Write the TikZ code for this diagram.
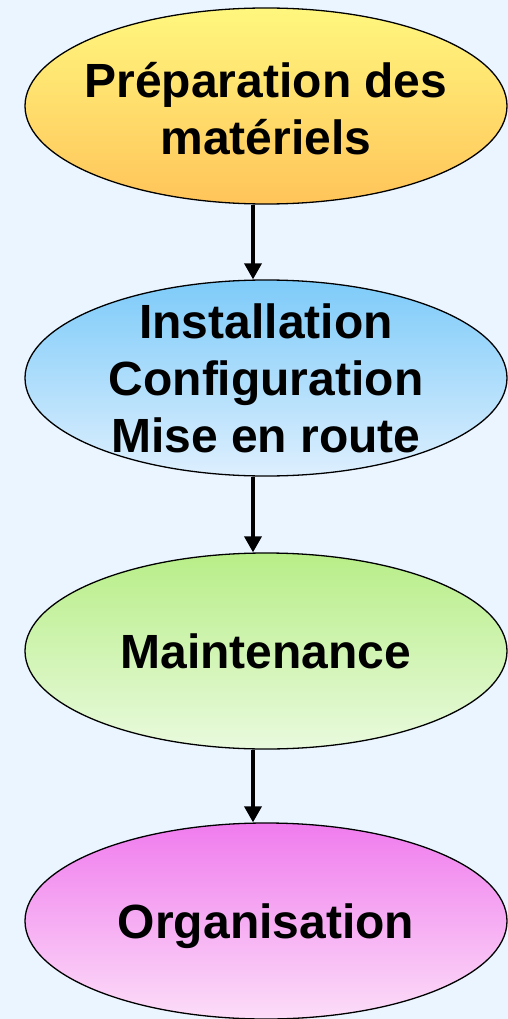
\documentclass[tikz,border=0pt]{standalone}
\usepackage{fontspec}
\setmainfont{Liberation Sans}
\usepackage{tikz}
\usetikzlibrary{shapes.geometric}
\usetikzlibrary{arrows.meta}
\definecolor{pagebg}{HTML}{EBF5FF}
\definecolor{prepTop}{HTML}{FFF77E}
\definecolor{prepBot}{HTML}{FFC45A}
\definecolor{instTop}{HTML}{7DCBF9}
\definecolor{instBot}{HTML}{DDEFFE}
\definecolor{mainTop}{HTML}{B8EE88}
\definecolor{mainBot}{HTML}{E9FADD}
\definecolor{orgaTop}{HTML}{F07CEE}
\definecolor{orgaBot}{HTML}{FCDDF8}

\begin{document}
\begin{tikzpicture}[x=1pt,y=1pt,
phase/.style = {shape=ellipse, draw=black, line width=1.3pt,
  minimum width=482pt, minimum height=196pt, inner sep=0pt},
label/.style = {align=center, inner sep=0pt,
  font=\bfseries\fontsize{48pt}{57pt}\selectfont},
flow/.style = {line width=3.5pt, -{Triangle[width=17pt,length=16pt]}}
]

\fill [pagebg] (0,0) rectangle (508,-1019);
\useasboundingbox (0,0) rectangle (508,-1019);

\node [phase, top color=prepTop, bottom color=prepBot] (prep) at (266,-106) {};
\node [label] at ([yshift=-3pt]prep.center) {Préparation des\\matériels};

\node [phase, top color=instTop, bottom color=instBot] (inst) at (266,-378) {};
\node [label] at (inst.center) {Installation\\Configuration\\Mise en route};

\node [phase, top color=mainTop, bottom color=mainBot] (main) at (266,-651) {};
\node [label] at (main.center) {Maintenance};

\node [phase, top color=orgaTop, bottom color=orgaBot] (orga) at (266,-921) {};
\node [label] at ([yshift=-5pt]orga.center) {Organisation};

\draw [flow] ([xshift=-13pt]prep.south) -- ([xshift=-13pt]inst.north);
\draw [flow] ([xshift=-13pt]inst.south) -- ([xshift=-13pt]main.north);
\draw [flow] ([xshift=-13pt]main.south) -- ([xshift=-13pt]orga.north);

\end{tikzpicture}
\end{document}
